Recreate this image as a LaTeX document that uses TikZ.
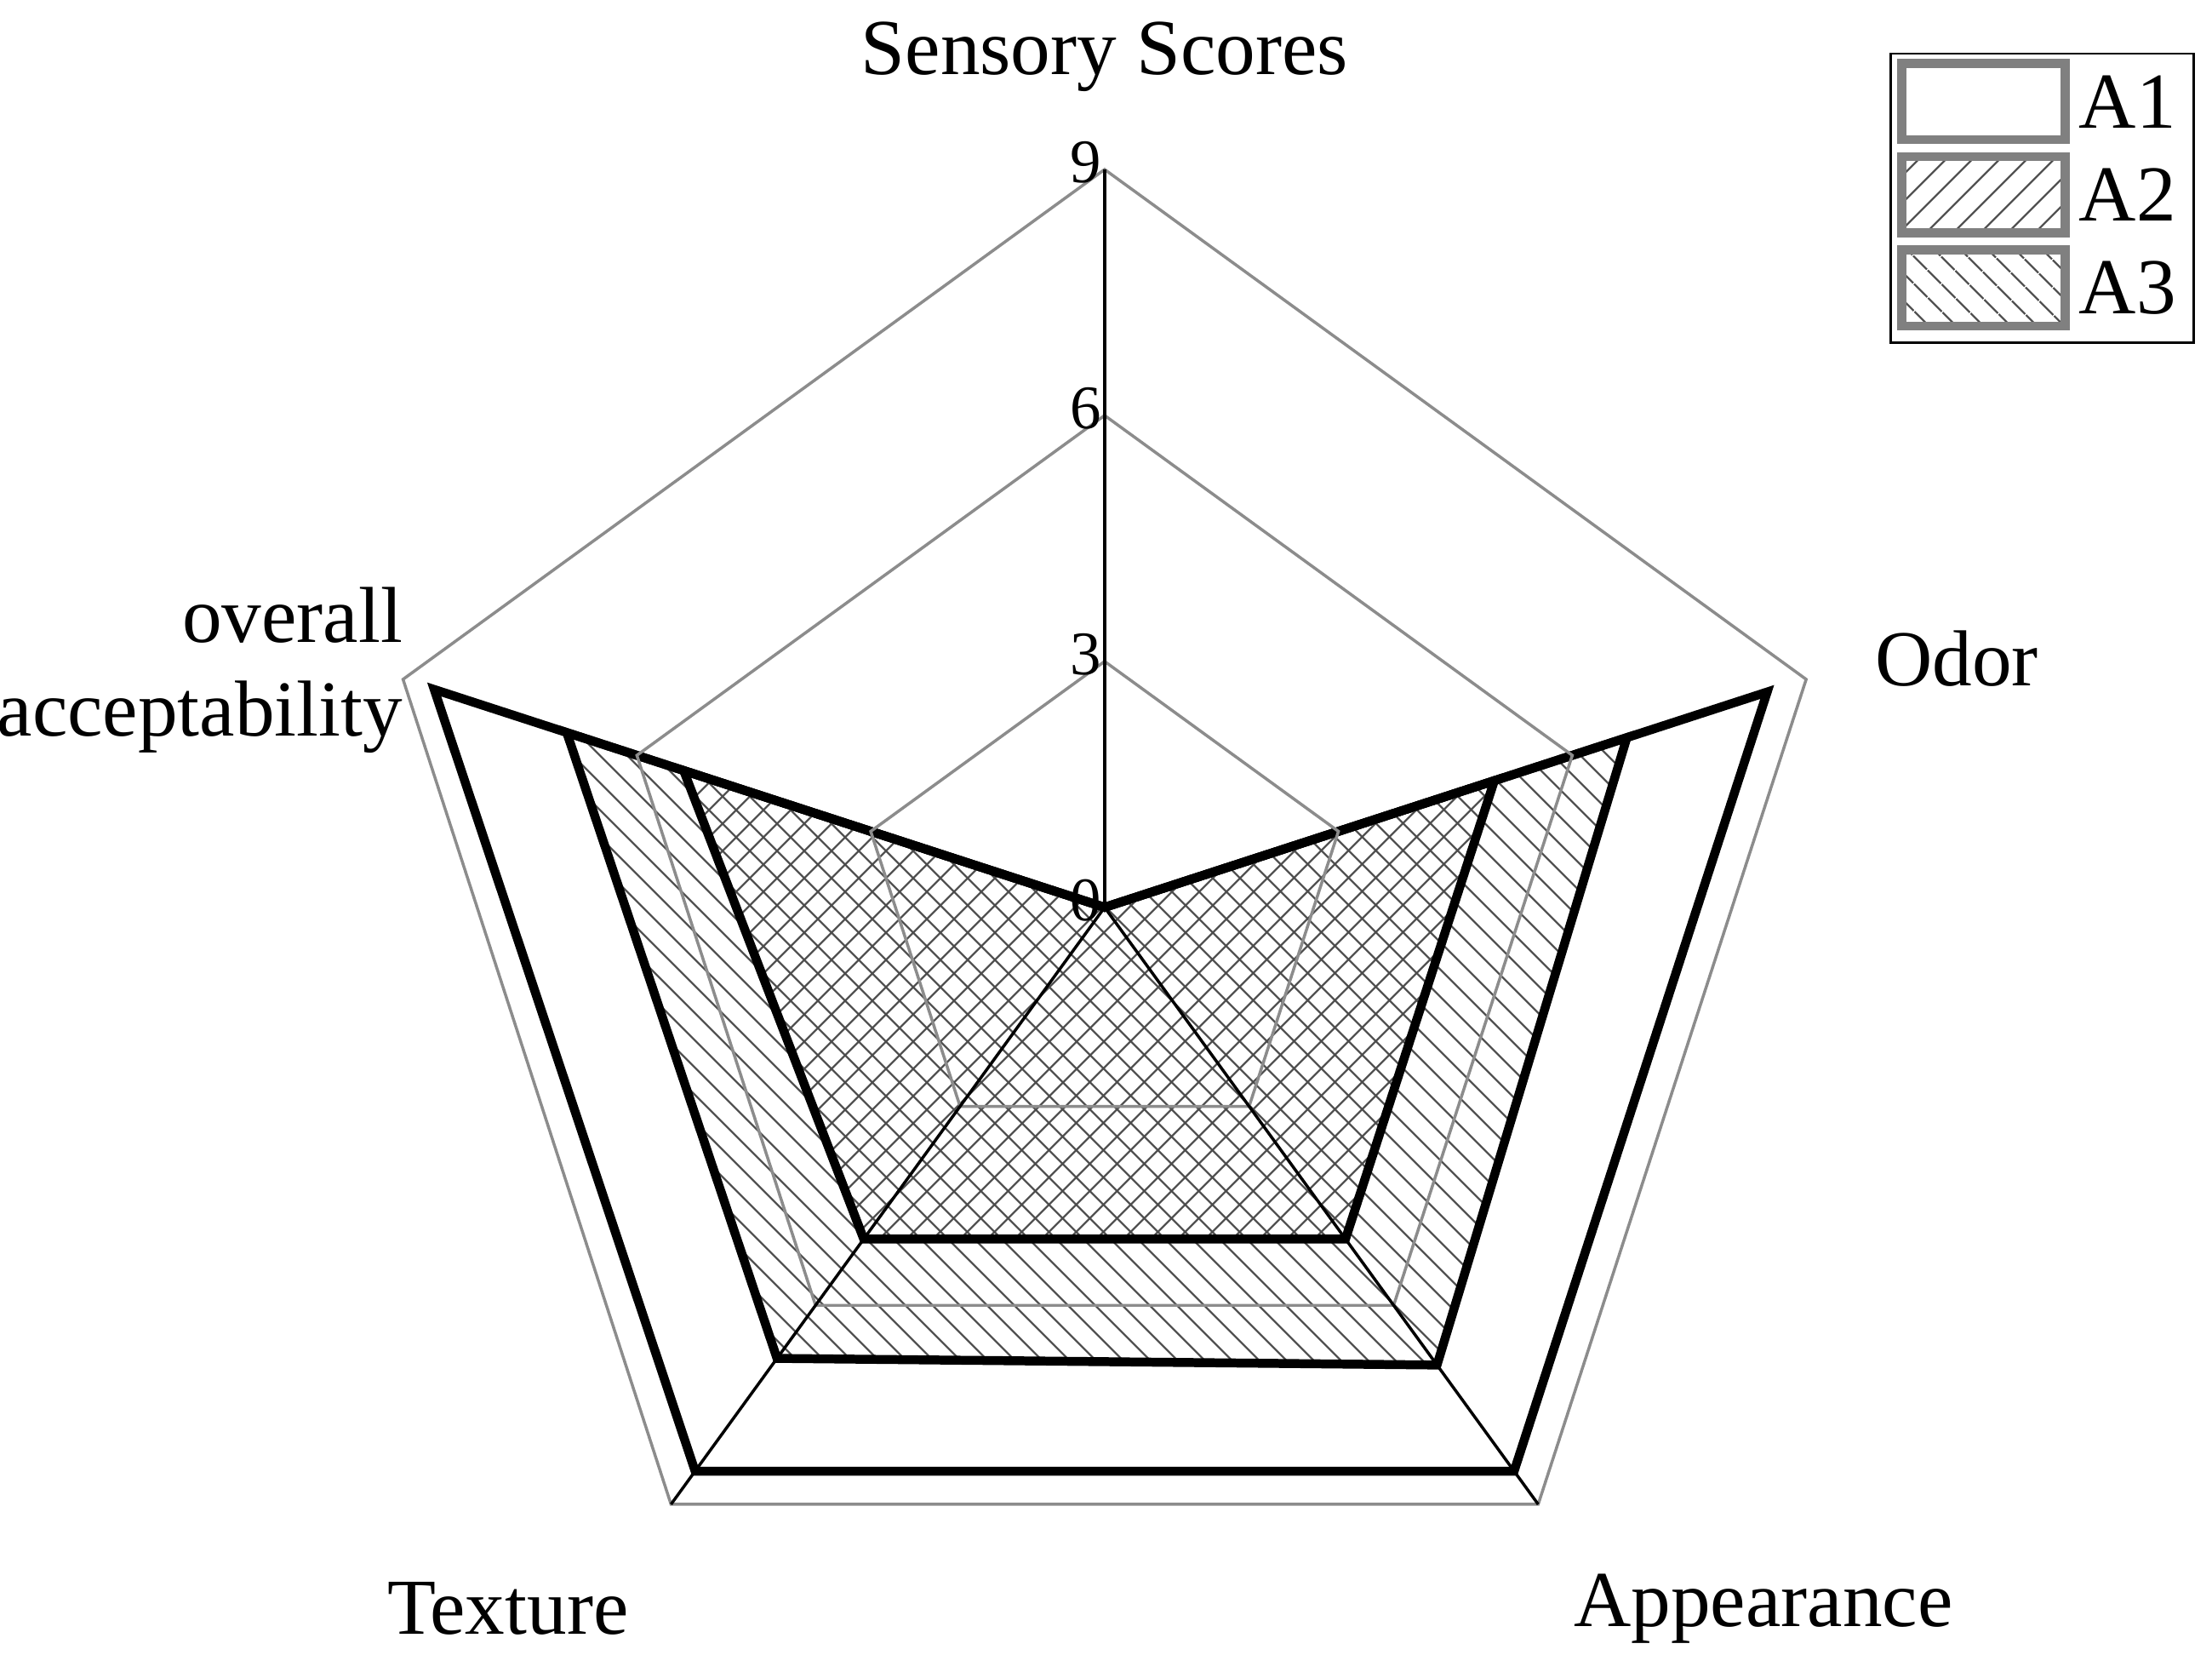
\documentclass[tikz,border=0pt]{standalone}
\usepackage{fontspec}
\setmainfont{Liberation Serif}
\usetikzlibrary{calc,patterns.meta,positioning}
\tikzset{
  grid line/.style={gray!90,line width=0.6pt},
  series/.style={black,line width=1.8pt,line join=miter},
  plain/.style={fill=white},
  hatchA/.style={pattern={Lines[angle=45,distance=4pt,line width=0.4pt]},pattern color=black!70},
  hatchB/.style={pattern={Lines[angle=-45,distance=4pt,line width=0.4pt]},pattern color=black!70},
  lab/.style={font=\fontsize{16}{19}\selectfont,inner sep=0pt},
  tick/.style={font=\fontsize{12.5}{14}\selectfont,inner sep=1pt,left}
}
\newcommand\radar[6]{% style, values top, odor, appearance, texture, overall
  \filldraw[#1] ($(O)+(90:{#2*\unit})$) -- ($(O)+(18:{#3*\unit})$) -- ($(O)+(-54:{#4*\unit})$)
    -- ($(O)+(-126:{#5*\unit})$) -- ($(O)+(162:{#6*\unit})$) -- cycle;
}
\begin{document}
\begin{tikzpicture}
  \useasboundingbox (0,0) rectangle (15.68,11.89);
  \coordinate (O) at (7.83,5.46);
  \def\unit{0.581}
  % series
  \radar{series,plain}{0}{8.5}{8.5}{8.5}{8.6}
  \radar{series,hatchB}{0}{6.7}{6.9}{6.8}{6.9}
  \radar{series,hatchA}{0}{5.0}{5.0}{5.0}{5.4}
  % grid
  \foreach \v in {3,6,9}{
    \draw[grid line] ($(O)+(90:{\v*\unit})$) -- ($(O)+(18:{\v*\unit})$) -- ($(O)+(-54:{\v*\unit})$)
      -- ($(O)+(-126:{\v*\unit})$) -- ($(O)+(162:{\v*\unit})$) -- cycle;
  }
  \foreach \a in {90,-54,-126}{
    \draw[black,line width=0.6pt] (O) -- ($(O)+(\a:{9*\unit})$);
  }
  % ticks
  \foreach \v in {0,3,6,9}{
    \node[tick] (t\v) at ($(O)+(0.02,{\v*\unit+0.05})$) {\v};
  }
  % axis labels
  \node[lab] (title) at (7.83,11.49) {Sensory Scores};
  \node[lab] (odor) at (13.87,7.22) {Odor};
  \node[lab] (app) at (12.50,0.49) {Appearance};
  \node[lab] (tex) at (3.60,0.49) {Texture};
  \node[lab,align=right,anchor=east] (over) at (2.86,7.14) {overall\\acceptability};
  % legend
  \draw[black,line width=0.5pt] (13.40,9.46) rectangle (15.55,11.51);
  \foreach \s/\n/\yy in {plain/A1/11.17,hatchA/A2/10.51,hatchB/A3/9.85}{
    \draw[gray,line width=1.8pt,\s] (13.48,{\yy-0.27}) rectangle (14.64,{\yy+0.27});
    \node[lab,right] (leg\n) at (14.73,\yy) {\n};
  }
\end{tikzpicture}
\end{document}
